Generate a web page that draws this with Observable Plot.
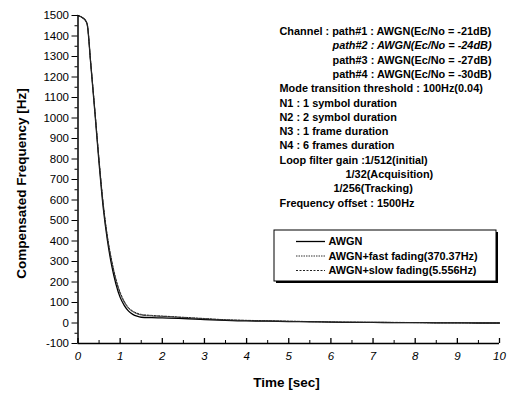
<!DOCTYPE html>
<html><head><meta charset="utf-8">
<script src="https://cdn.jsdelivr.net/npm/d3@7"></script>
<script src="https://cdn.jsdelivr.net/npm/@observablehq/plot@0.6"></script>
<style>body{margin:0;background:#fff}svg{font-family:"Liberation Sans",Arial,sans-serif}</style>
</head><body><div id="chart"></div>
<script>
// ---- data ----
const time = [0,0.1,0.18,0.22,0.3,0.4,0.5,0.6,0.7,0.8,0.9,1.0,1.1,1.2,1.3,1.4,1.5,1.75,2,2.5,3,3.5,4,4.5,5,5.5,6,6.5,7,7.5,8,8.5,9,9.5,10];
const awgn = [1500,1490,1475,1455,1270,1030,780,560,400,280,190,125,85,58,42,33,28,26,25,22,17,13,10,9,7,6,4,3,3,2,2,1,1,0,0];
const fastFading = [1500,1490,1475,1455,1272,1035,790,575,415,298,208,143,100,71,55,45,39,34,32,26,20,15,12,10,8,7,5,4,3,2,2,1,1,0,0];
const slowFading = [1500,1490,1475,1455,1274,1038,795,580,420,305,215,150,105,75,58,48,42,37,34,28,22,16,13,11,9,7,5,4,3,3,2,1,1,0,0];
const seriesNames = ["AWGN","AWGN+fast fading(370.37Hz)","AWGN+slow fading(5.556Hz)"];
const xTicks = [0,1,2,3,4,5,6,7,8,9,10];
const yTicks = [-100,0,100,200,300,400,500,600,700,800,900,1000,1100,1200,1300,1400,1500];
const annotation = [
  "Channel : path#1 : AWGN(Ec/No = -21dB)",
  "path#2 : AWGN(Ec/No = -24dB)",
  "path#3 : AWGN(Ec/No = -27dB)",
  "path#4 : AWGN(Ec/No = -30dB)",
  "Mode transition threshold : 100Hz(0.04)",
  "N1 : 1 symbol duration",
  "N2 : 2 symbol duration",
  "N3 : 1 frame duration",
  "N4 : 6 frames duration",
  "Loop filter gain :1/512(initial)",
  "1/32(Acquisition)",
  "1/256(Tracking)",
  "Frequency offset : 1500Hz"
];
const xLabel = "Time [sec]";
const yLabel = "Compensated Frequency [Hz]";

// ---- layout ----
const W = 513, H = 398, mL = 77.5, mR = 14, mT = 15, mB = 55;
const xDom = [0,10], yDom = [-100,1500];
const pw = W - mL - mR, ph = H - mT - mB;
const tx = px => xDom[0] + (px - mL) / pw * (xDom[1]-xDom[0]);
const vy = py => yDom[1] - (py - mT) / ph * (yDom[1]-yDom[0]);

const rows = [];
time.forEach((t,i)=>{
  rows.push({t, v: awgn[i], s: seriesNames[0]});
  rows.push({t, v: fastFading[i], s: seriesNames[1]});
  rows.push({t, v: slowFading[i], s: seriesNames[2]});
});
const styles = {
  [seriesNames[0]]: {stroke:"#000", dash:null, w:1.3},
  [seriesNames[1]]: {stroke:"#333", dash:"1.5,1", w:1},
  [seriesNames[2]]: {stroke:"#222", dash:"2,1.5", w:1}
};

const indentPx = [0,53,53,53,0,0,0,0,0,0,66,54,0];
const ann = annotation.map((text,i)=>({text, x: tx(279 + indentPx[i]), y: vy(31 + i*14.3), italic: i===1}));

const legRows = seriesNames.map((s,i)=>({s, y: vy(241 + i*14.5)}));
const box = {x1: tx(274), x2: tx(496), y1: vy(230), y2: vy(281)};

const minorX = d3.range(0.5,10,1);
const minorY = d3.range(-50,1500,100);
const fs = 10.9;

const marks = [
  ...seriesNames.map(s => Plot.line(rows.filter(r=>r.s===s), {x:"t", y:"v", stroke: styles[s].stroke, strokeWidth: styles[s].w, strokeDasharray: styles[s].dash, curve:"monotone-x"})),
  Plot.ruleX([0], {stroke:"#000", strokeWidth:1.5}),
  Plot.ruleY([-100], {stroke:"#000", strokeWidth:1.5}),
  Plot.axisY(yTicks, {tickSize:6, tickPadding:3, fontSize:11.5, stroke:"#000", fill:"#000", label:null, tickFormat:d=>String(d)}),
  Plot.axisY(minorY, {tickSize:3, text:null, label:null}),
  Plot.ruleX(xTicks, {insetTop: ph - 5, stroke:"#000", strokeWidth:1.3}),
  Plot.ruleX(minorX, {insetTop: ph - 3, stroke:"#000"}),
  Plot.axisX(xTicks, {tickSize:0, tickPadding:8, fontSize:11.5, fontStyle:"italic", label:null, tickFormat:d=>String(d)}),
  Plot.text([xLabel], {text:d=>d, x: ()=>tx(286), y: ()=>vy(382), textAnchor:"middle", fontSize:13.5, fontWeight:"bold", clip:false}),
  Plot.text([yLabel], {text:d=>d, x: ()=>tx(21), y: ()=>vy(183), textAnchor:"middle", rotate:-90, fontSize:13.5, fontWeight:"bold"}),
  Plot.text(ann.filter(a=>!a.italic), {x:"x", y:"y", text:"text", textAnchor:"start", fontSize:fs, fontWeight:"bold"}),
  Plot.text(ann.filter(a=>a.italic), {x:"x", y:"y", text:"text", textAnchor:"start", fontSize:fs, fontWeight:"bold", fontStyle:"italic"}),
  Plot.rect([box], {x1:"x1", x2:"x2", y1:"y1", y2:"y2", fill:"#000", dx:2, dy:2}),
  Plot.rect([box], {x1:"x1", x2:"x2", y1:"y1", y2:"y2", fill:"#fff", stroke:"#000", strokeWidth:1}),
  ...legRows.map(r => Plot.ruleY([r.y], {x1: tx(296), x2: tx(325), stroke: styles[r.s].stroke, strokeWidth: styles[r.s].w, strokeDasharray: styles[r.s].dash})),
  Plot.text(legRows, {x: ()=>tx(328), y:"y", text:"s", textAnchor:"start", fontSize:fs, fontWeight:"bold"})
];

const chart = Plot.plot({
  width: W, height: H,
  marginLeft: mL, marginRight: mR, marginTop: mT, marginBottom: mB,
  x: {domain: xDom, axis: null},
  y: {domain: yDom, axis: null},
  style: {fontFamily: '"Liberation Sans", Arial, sans-serif', color:"#000", background:"#fff"},
  marks
});
document.getElementById("chart").appendChild(chart);
</script>
</body></html>
